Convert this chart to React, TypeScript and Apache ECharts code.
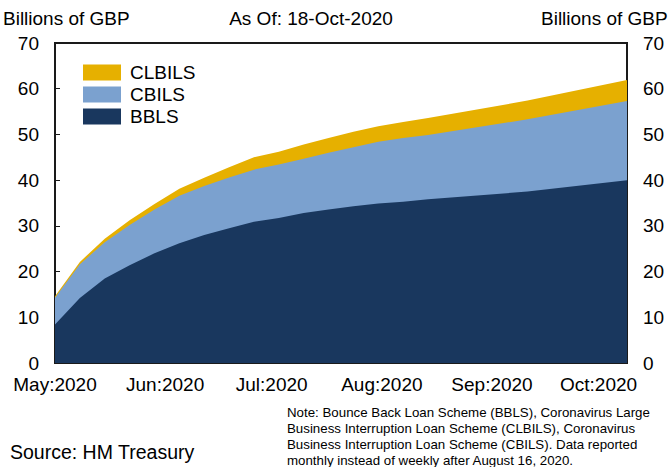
import React, { useEffect, useRef } from "react";
import * as echarts from "echarts";

const dates = [
  "2020-05-01", "2020-05-08", "2020-05-15", "2020-05-22", "2020-05-29",
  "2020-06-05", "2020-06-12", "2020-06-19", "2020-06-26", "2020-07-03",
  "2020-07-10", "2020-07-17", "2020-07-24", "2020-07-31", "2020-08-07",
  "2020-08-14", "2020-09-11", "2020-10-09",
];
const bbls = [8.4, 14.2, 18.5, 21.4, 24.0, 26.2, 28.0, 29.5, 30.9, 31.7, 32.8, 33.6, 34.3, 34.9, 35.3, 35.8, 37.5, 40.0];
const cbils = [5.9, 7.4, 7.9, 8.8, 9.6, 10.4, 10.7, 11.1, 11.4, 11.7, 11.9, 12.4, 12.9, 13.5, 13.9, 14.1, 15.8, 17.3];
const clbils = [0.3, 0.5, 0.8, 1.0, 1.2, 1.5, 1.8, 2.2, 2.7, 2.8, 3.1, 3.2, 3.4, 3.4, 3.5, 3.7, 4.1, 4.6];

const monthTicks = ["2020-05-01", "2020-06-01", "2020-07-01", "2020-08-01", "2020-09-01", "2020-10-01"];
const monthLabels = ["May:2020", "Jun:2020", "Jul:2020", "Aug:2020", "Sep:2020", "Oct:2020"];

const noteLines = [
  "Note: Bounce Back Loan Scheme (BBLS), Coronavirus Large",
  "Business Interruption Loan Scheme (CLBILS), Coronavirus",
  "Business Interruption Loan Scheme (CBILS). Data reported",
  "monthly instead of weekly after August 16, 2020.",
];

const FONT = "'Liberation Sans', Arial, Helvetica, sans-serif";
const DAY = 86400000;

function toTs(s: string): number {
  const [y, m, d] = s.split("-").map(Number);
  return Date.UTC(y, m - 1, d);
}

export default function App() {
  const ref = useRef<HTMLDivElement>(null);
  useEffect(() => {
    if (!ref.current) return;
    const chart = echarts.init(ref.current, undefined, { renderer: "svg" });
    const t0 = toTs(dates[0]);
    const days = dates.map((d) => Math.round((toTs(d) - t0) / DAY));
    const monthDays = monthTicks.map((d) => Math.round((toTs(d) - t0) / DAY));
    // stacked tops computed from the component series
    const cumCbils = bbls.map((v, i) => +(v + cbils[i]).toFixed(3));
    const cumTotal = cumCbils.map((v, i) => +(v + clbils[i]).toFixed(3));
    const mk = (arr: number[]) => arr.map((v, i) => [days[i], v]);
    const areaSeries = (name: string, data: number[], color: string) => ({
      name,
      type: "line",
      data: mk(data),
      symbol: "none",
      lineStyle: { width: 0 },
      itemStyle: { color },
      areaStyle: { color, opacity: 1 },
      emphasis: { disabled: true },
    });
    const yAxisCommon = {
      type: "value",
      min: 0,
      max: 70,
      interval: 10,
      splitLine: { show: false },
      axisLine: { show: true, lineStyle: { color: "#1a1a1a", width: 2 } },
      axisTick: { show: true, inside: true, length: 5, lineStyle: { color: "#1a1a1a", width: 1 } },
      axisLabel: { color: "#000", fontSize: 19, fontFamily: FONT, margin: 16 },
    };
    chart.setOption({
      animation: false,
      grid: {
        left: 55,
        right: 44,
        top: 43,
        bottom: 104,
        show: true,
        borderColor: "#1a1a1a",
        borderWidth: 2,
        containLabel: false,
        outerBoundsMode: "none",
      },
      legend: {
        data: ["CLBILS", "CBILS", "BBLS"],
        orient: "vertical",
        left: 83,
        top: 63,
        padding: 0,
        itemWidth: 38,
        itemHeight: 16,
        itemGap: 3,
        icon: "rect",
        textStyle: { fontSize: 19, fontFamily: FONT, color: "#000", padding: [0, 0, 0, 4] },
      },
      xAxis: {
        type: "value",
        min: days[0],
        max: days[days.length - 1],
        splitLine: { show: false },
        axisLine: { show: true, lineStyle: { color: "#1a1a1a", width: 2 } },
        axisTick: {
          show: true,
          inside: true,
          length: 5,
          customValues: monthDays,
          lineStyle: { color: "#1a1a1a", width: 1 },
        },
        axisLabel: {
          customValues: monthDays,
          color: "#000",
          fontSize: 19,
          fontFamily: FONT,
          margin: 12,
          formatter: (val: number) => {
            let best = 0;
            for (let i = 0; i < monthDays.length; i++) {
              if (Math.abs(monthDays[i] - val) < Math.abs(monthDays[best] - val)) best = i;
            }
            return monthLabels[best];
          },
        },
      },
      yAxis: [
        { ...yAxisCommon, position: "left" },
        { ...yAxisCommon, position: "right" },
      ],
      series: [
        areaSeries("CLBILS", cumTotal, "#E6B000"),
        areaSeries("CBILS", cumCbils, "#7BA1CF"),
        areaSeries("BBLS", bbls, "#19375E"),
      ],
      graphic: [
        {
          type: "text",
          x: 3,
          y: 18,
          style: { text: "Billions of GBP", fontSize: 19, fontFamily: FONT, fill: "#000", verticalAlign: "middle" },
        },
        {
          type: "text",
          x: 311,
          y: 18,
          style: {
            text: "As Of: 18-Oct-2020",
            fontSize: 19,
            fontFamily: FONT,
            fill: "#000",
            align: "center",
            verticalAlign: "middle",
          },
        },
        {
          type: "text",
          x: 541,
          y: 18,
          style: {
            text: "Billions of GBP",
            fontSize: 19,
            fontFamily: FONT,
            fill: "#000",
            verticalAlign: "middle",
          },
        },
        {
          type: "text",
          x: 10,
          y: 452,
          style: {
            text: "Source: HM Treasury",
            fontSize: 19.5,
            fontFamily: FONT,
            fill: "#000",
            verticalAlign: "middle",
          },
        },
        ...noteLines.map((line, i) => ({
          type: "text",
          x: 287,
          y: 412 + i * 16.2,
          style: {
            text: line,
            fontSize: 13.3,
            fontFamily: FONT,
            fill: "#000",
            verticalAlign: "middle",
          },
        })),
      ],
    });
    return () => chart.dispose();
  }, []);
  return (
    <div
      ref={ref}
      style={{ position: "fixed", left: 0, top: 0, width: 671, height: 467, background: "#fff" }}
    />
  );
}
